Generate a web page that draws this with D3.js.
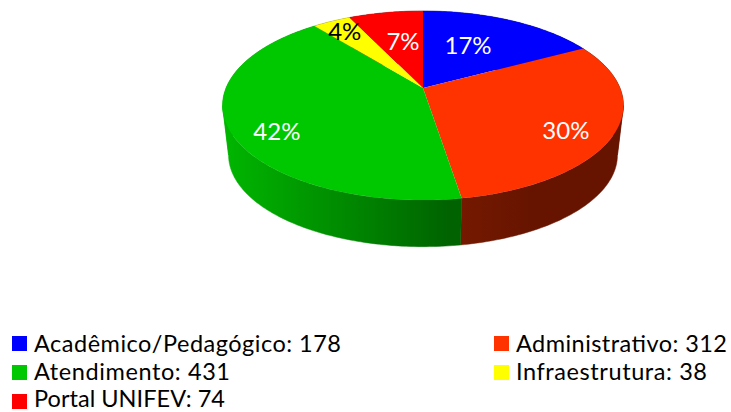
<!DOCTYPE html>
<html><head><meta charset="utf-8">
<style>html,body{margin:0;padding:0;background:#fff}svg{display:block}</style>
<script src="https://cdn.jsdelivr.net/npm/d3@7/dist/d3.min.js"></script>
</head><body><svg id="c" width="731" height="412"></svg>
<script>
const categories = ["Acadêmico/Pedagógico","Administrativo","Atendimento","Infraestrutura","Portal UNIFEV"];
const values = [178,312,431,38,74];
const topColors = ["#0000ff","#ff3300","#00c800","#ffff00","#ff0000"];
const labelColors = ["#fff","#fff","#fff","#000","#fff"];
const labelRadius = [0.574,0.788,0.808,0.838,0.58];
const labelShift = [-0.09,0.095,-0.144,0,0.03];
const legendWidths = [307,211,196,191,191];

const apex = {x:423,y:88}, A=197, B=91.3, K=0.185, DEPTH=50, SHRINK=0.97;
function project(theta,r=1,base=false){
  const u=r*Math.sin(theta), v=-r*Math.cos(theta), w=1-K*v, s=base?SHRINK:1;
  return [apex.x+s*A*u/w, apex.y+(base?DEPTH:0)+s*B*v/w];
}
const svg=d3.select("#c");
const arcs=d3.pie().sort(null).value(d=>d)(values);
const total=d3.sum(values);
const pct=d3.format(".0%");
const line=d3.line();
const sample=(a0,a1,n)=>d3.range(n+1).map(i=>a0+(a1-a0)*i/n);

const defs=svg.append("defs");
function hGrad(id,x1,x2,c1,c2){
  const g=defs.append("linearGradient").attr("id",id).attr("gradientUnits","userSpaceOnUse")
    .attr("x1",x1).attr("x2",x2).attr("y1",0).attr("y2",0);
  g.append("stop").attr("offset",0).attr("stop-color",c1);
  g.append("stop").attr("offset",1).attr("stop-color",c2);
  return `url(#${id})`;
}
const endOrange=project(arcs[1].endAngle)[0];
const sideFill=[
  "#00008a",
  hGrad("sideOrange",endOrange,endOrange+70,"#751900","#661400"),
  hGrad("sideGreen",apex.x-A+4,endOrange-10,"#00b400","#006200"),
  "#8a8a00",
  "#8a0000"
];
// silhouette angles: a wall piece must not fold over itself, so split there
const tangent=Math.acos(K);
const splits=[Math.PI-tangent,Math.PI+tangent];
const walls=svg.append("g");
[0,4,3,1,2].forEach(i=>{
  const a=arcs[i];
  const cuts=[a.startAngle,...splits.filter(s=>s>a.startAngle&&s<a.endAngle),a.endAngle];
  walls.append("g").attr("fill",sideFill[i]).attr("stroke",sideFill[i]).attr("stroke-width",0.5)
    .selectAll("path").data(d3.pairs(cuts)).join("path")
    .attr("d",([p,q])=>{
      const t=sample(p,q,Math.max(4,Math.round((q-p)*60)));
      return line([...t.map(v=>project(v)),...t.slice().reverse().map(v=>project(v,1,true))])+"Z";
    });
});
svg.append("g").selectAll("path").data(arcs).join("path")
  .attr("d",a=>{
    const n=Math.max(4,Math.round((a.endAngle-a.startAngle)*60));
    return line([[apex.x,apex.y],...sample(a.startAngle,a.endAngle,n).map(t=>project(t))])+"Z";
  })
  .attr("fill",(a,i)=>topColors[i]);
svg.append("g").selectAll("text").data(arcs).join("text")
  .attr("transform",(a,i)=>{
    const p=project((a.startAngle+a.endAngle)/2+labelShift[i],labelRadius[i]);
    return `translate(${p[0]},${p[1]})`;
  })
  .attr("text-anchor","middle").attr("dominant-baseline","central")
  .attr("font-family","Lato, 'Open Sans', sans-serif").attr("font-size",24)
  .attr("fill",(a,i)=>labelColors[i])
  .text(a=>pct(a.value/total));
const legendCol=d3.scalePoint().domain([0,1]).range([12,494]);
const swatchRow=d3.scalePoint().domain([0,1,2]).range([336,394]);
const textRow=d3.scalePoint().domain([0,1,2]).range([352,407]);
const lg=svg.append("g").selectAll("g").data(categories).join("g");
lg.append("rect").attr("x",(c,i)=>legendCol(i%2)).attr("y",(c,i)=>swatchRow(Math.floor(i/2)))
  .attr("width",15).attr("height",15).attr("fill",(c,i)=>topColors[i]);
lg.append("text").attr("x",(c,i)=>legendCol(i%2)+22).attr("y",(c,i)=>textRow(Math.floor(i/2)))
  .attr("font-family","Lato, 'Open Sans', sans-serif").attr("font-size",23.5).attr("fill","#000")
  .attr("textLength",(c,i)=>legendWidths[i]).attr("lengthAdjust","spacing")
  .text((c,i)=>`${c}: ${values[i]}`);
</script></body></html>
